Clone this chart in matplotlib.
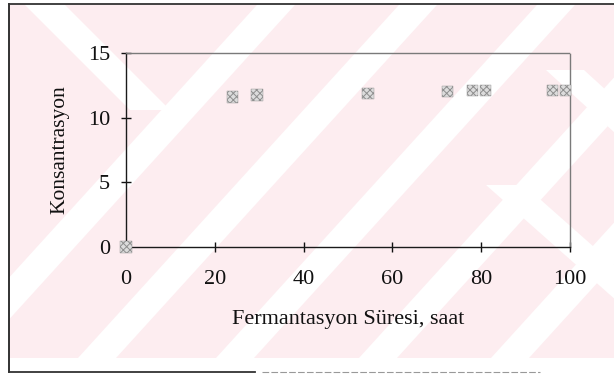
import matplotlib
matplotlib.use("Agg")
import matplotlib.pyplot as plt
from matplotlib.patches import Polygon, Rectangle
from matplotlib.lines import Line2D

# Fermentation time (hours) and measured concentration
sure_saat = [0, 24, 29.5, 54.5, 72.5, 78, 81, 96, 99]
konsantrasyon = [0, 11.6, 11.75, 11.9, 12.0, 12.1, 12.1, 12.1, 12.1]

x_ticks = [0, 20, 40, 60, 80, 100]
y_ticks = [0, 5, 10, 15]

W, H = 614, 374
fig = plt.figure(figsize=(W / 100, H / 100), dpi=100)
fig.patch.set_facecolor("white")

# ---- page background (pixel coordinates, y downward) ----
bg = fig.add_axes([0, 0, 1, 1], zorder=0)
bg.set_xlim(0, W)
bg.set_ylim(H, 0)
bg.axis("off")

PINK = "#fdedf0"
page = Rectangle((9, 4), W - 9, 354, facecolor=PINK, edgecolor="none")
bg.add_patch(page)


def band(x0, y0, x1, y1, w):
    """Light diagonal band between two centre points, w pixels wide horizontally."""
    p = Polygon([(x0 - w / 2, y0), (x0 + w / 2, y0), (x1 + w / 2, y1), (x1 - w / 2, y1)],
                closed=True, facecolor="white", edgecolor="none")
    bg.add_patch(p)
    p.set_clip_path(page)


slope = 1.1
for xb in [-45, 97, 235, 378, 510]:
    band(xb, 358, xb + 358 / slope, 0, 38)
# bands running the other way on the right and top-left
band(505, 185, 680, 340, 38)
band(565, 70, 680, 175, 38)
band(40, 0, 150, 110, 40)

# outer frame
bg.add_line(Line2D([9, 9], [4, 372], color="#222222", lw=1.3))
bg.add_line(Line2D([9, W], [4, 4], color="#333333", lw=1.3))
bg.add_line(Line2D([9, 255], [372, 372], color="#333333", lw=1.3))
bg.add_line(Line2D([262, 540], [372, 372], color="#999999", lw=0.8, ls=(0, (6, 2))))

# ---- chart ----
ax = fig.add_axes([126 / W, 1 - 247 / H, 444 / W, 194 / H], zorder=1)
ax.set_facecolor("none")

plt.rcParams["hatch.linewidth"] = 0.7
ax.scatter(sure_saat, konsantrasyon, marker="s", s=64, facecolor="#dcdcdc",
           edgecolor="#8e8e8e", linewidths=0.3, hatch="xxxxx", clip_on=False, zorder=3)

ax.set_xlim(0, 100)
ax.set_ylim(0, 15)
ax.set_xticks(x_ticks)
ax.set_yticks(y_ticks)

serif = "Liberation Serif"
for lab in ax.get_xticklabels() + ax.get_yticklabels():
    lab.set_fontfamily(serif)
    lab.set_fontsize(16)

ax.tick_params(axis="x", direction="inout", length=7, width=1, pad=13, colors="#111111")
ax.tick_params(axis="y", direction="inout", length=7, width=1, pad=8, colors="#111111")

for side in ("left", "bottom"):
    ax.spines[side].set_color("#1a1a1a")
    ax.spines[side].set_linewidth(1.0)
for side in ("top", "right"):
    ax.spines[side].set_color("#7a7a7a")
    ax.spines[side].set_linewidth(1.0)
    ax.spines[side].set_linestyle((0, (1.5, 1)))

ax.set_xlabel("Fermantasyon Süresi, saat", fontfamily=serif, fontsize=16, color="#111111")
ax.xaxis.label.set_va("center")
ax.xaxis.set_label_coords(0.5, -0.376)
ax.set_ylabel("Konsantrasyon", fontfamily=serif, fontsize=15.5, color="#111111")
ax.yaxis.label.set_va("center")
ax.yaxis.set_label_coords(-0.149, 0.5)

fig.savefig("out.png", dpi=100, facecolor=fig.get_facecolor())
